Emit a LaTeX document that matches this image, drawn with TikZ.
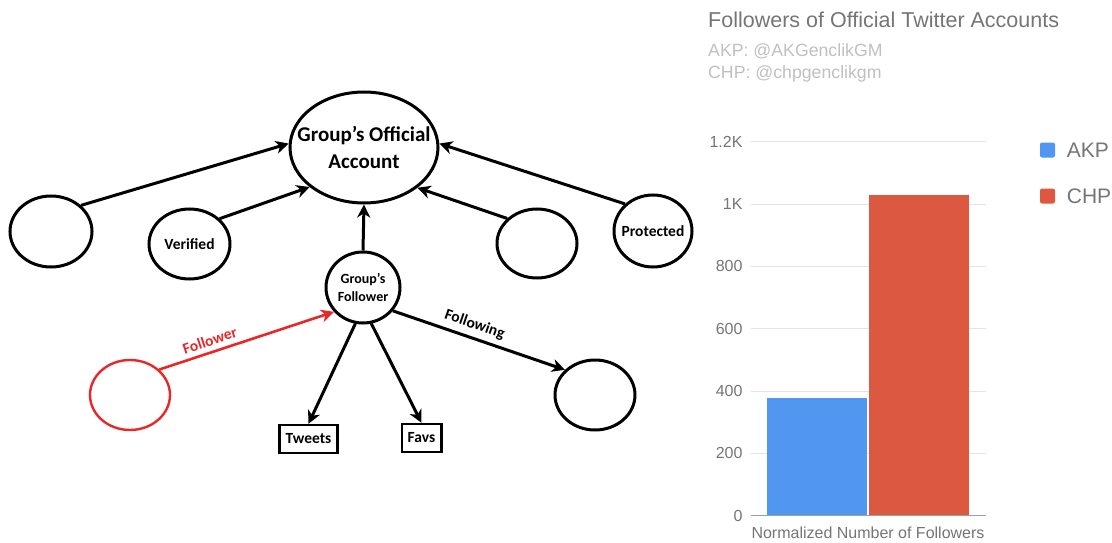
\documentclass[tikz,border=0pt]{standalone}
\usepackage{fontspec}
\setmainfont{Carlito}
\newfontfamily\chartfont{Liberation Sans}
\usetikzlibrary{shapes.geometric, arrows.meta, positioning}

\definecolor{folred}{RGB}{232,40,40}
\definecolor{akpblue}{RGB}{81,150,240}
\definecolor{chpred}{RGB}{221,88,65}
\definecolor{titlegray}{RGB}{117,117,117}
\definecolor{subgray}{RGB}{192,192,192}
\definecolor{gridgray}{RGB}{228,228,228}

\begin{document}
\begin{tikzpicture}[x=1pt, y=-1pt,
    oval/.style={draw, ellipse, line width=3pt, inner sep=0pt},
    box/.style={draw, rectangle, line width=2.4pt, inner xsep=6pt, minimum height=28pt, font=\fontsize{15.5}{18}\selectfont\bfseries},
    line/.style={draw, -{Stealth[length=13pt, width=13pt, inset=4pt]}, line width=3pt},
    bigtext/.style={font=\fontsize{21}{27}\selectfont\bfseries, align=center},
    nodetext/.style={font=\fontsize{15.5}{18}\selectfont\bfseries},
    smalltext/.style={font=\fontsize{14}{17.5}\selectfont\bfseries, align=center},
    edgetext/.style={sloped, above, font=\fontsize{15.5}{18}\selectfont\bfseries, inner sep=5pt},
    charttext/.style={inner sep=0pt, text=titlegray, font=\chartfont\fontsize{#1}{#1}\selectfont},
    ticklabel/.style={charttext=16, anchor=east},
    legendkey/.style={rectangle, rounded corners=2pt, minimum size=15pt, inner sep=0pt}
]
    \useasboundingbox (0,0) rectangle (1112,543);

    % Official account and its neighbours
    \node [oval, minimum width=148pt, minimum height=111pt, label={[bigtext]center:Group’s Official\\Account}] (acct) at (364,147.5) {};
    \node [oval, minimum width=82pt, minimum height=71pt] (lft) at (51,231.5) {};
    \node [oval, minimum width=81pt, minimum height=70pt, label={[nodetext]center:Verified}] (ver) at (189.5,244) {};
    \node [oval, minimum width=80pt, minimum height=69pt] (rgt) at (537,243.5) {};
    \node [oval, minimum width=78pt, minimum height=72pt, label={[nodetext]center:Protected}] (prot) at (653,231) {};

    % Follower and what it links to
    \node [oval, minimum width=74pt, minimum height=71pt, label={[smalltext]center:Group’s\\Follower}] (fol) at (363,287.5) {};
    \node [oval, draw=folred, line width=2.4pt, minimum width=80pt, minimum height=70pt] (red) at (130,395) {};
    \node [oval, minimum width=80pt, minimum height=70pt] (fwg) at (595,395) {};
    \node [box] (tw) at (308.5,439) {Tweets};
    \node [box] (fav) at (421.5,438) {Favs};

    % Connections
    \path [line] (lft.41) -- (acct.177);
    \path [line] (ver.40) -- (acct.216);
    \path [line] (rgt.140) -- (acct.323);
    \path [line] (prot.136) -- (acct.3);
    \path [line] (fol.north) -- (acct.south);
    \path [line, draw=folred, line width=2.6pt] (red.41) -- node [edgetext, text=folred, pos=0.31] {Follower} (fol.220);
    \path [line] (fol.322) -- node [edgetext, pos=0.45] {Following} (fwg.140);
    \path [line] (fol.258) -- (tw.north);
    \path [line] (fol.283) -- (fav.north);

    % Chart title
    \node [charttext=21.5, anchor=base west] (title) at (708,28) {Followers of Official Twitter Accounts};
    \node [charttext=17.7, text=subgray, anchor=base west] (sub1) at (708,57) {AKP: @AKGenclikGM};
    \node [charttext=17.7, text=subgray, anchor=base west] (sub2) at (708,79) {CHP: @chpgenclikgm};

    % Grid and axis labels
    \foreach \v/\lab in {200/200, 400/400, 600/600, 800/800, 1000/1K, 1200/1.2K} {
        \draw [gridgray, line width=1pt] (750.7,{515.7-0.31167*\v}) -- (985.7,{515.7-0.31167*\v});
        \node [ticklabel] (t\v) at (742.7,{515.7-0.31167*\v}) {\lab};
    }

    % Bars
    \fill [akpblue] (767.3,398.3) rectangle (866.7,515.7);
    \fill [chpred] (869,195.3) rectangle (968.7,515.7);
    \draw [gray!75, line width=1.2pt] (750.7,515.7) -- (985.7,515.7);
    \node [ticklabel] (t0) at (742.7,515.7) {0};
    \node [charttext=16, anchor=base] (xlab) at (868,538) {Normalized Number of Followers};

    % Legend
    \node [legendkey, fill=akpblue] (kakp) at (1047.5,150) {};
    \node [charttext=21, right=11.5pt of kakp] (lakp) {AKP};
    \node [legendkey, fill=chpred] (kchp) at (1047.5,196) {};
    \node [charttext=21, right=11.5pt of kchp] (lchp) {CHP};

\end{tikzpicture}
\end{document}
